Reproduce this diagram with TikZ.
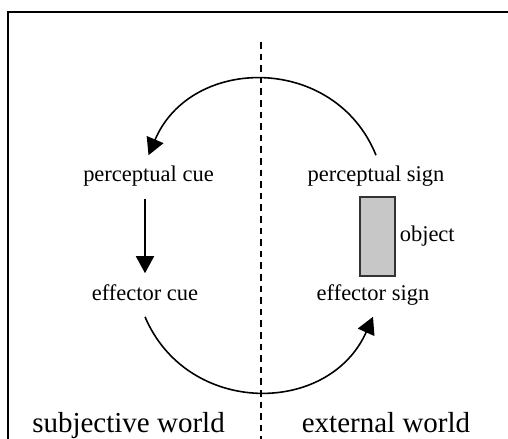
\documentclass[tikz,border=0pt]{standalone}
\usepackage{fontspec}
\setmainfont{Liberation Serif}
\usetikzlibrary{arrows.meta}

\begin{document}
\begin{tikzpicture}[line width=0.9pt,
    cue/.style={font=\fontsize{12.8}{15}\selectfont, text height=0.3cm,
        text depth=0.1cm, inner xsep=0.1cm, inner ysep=0.22cm},
    world/.style={font=\fontsize{16.5}{19}\selectfont, anchor=base},
    arr/.style={-{Triangle[length=0.34cm,width=0.36cm]}},
    divider/.style={dash pattern=on 3.8pt off 2.8pt, line width=1.1pt}]
        \useasboundingbox (0,0) rectangle (10.16,-8.78);
        % frame, cut at the right and bottom
        \draw[line width=1.2pt] (0.16,-8.78) -- (0.16,-0.24) -- (10.16,-0.24);
        \draw[divider] (5.22,-0.84) -- (5.22,-8.78);

        \node[cue] (pcue) at (2.97,-3.54) {perceptual cue};
        \node[cue] (psign) at (7.52,-3.54) {perceptual sign};
        \node[cue] (ecue) at (2.9,-5.9) {effector cue};
        \node[cue] (esign) at (7.46,-5.9) {effector sign};

        \node[draw=black!80, fill=black!22, line width=1.1pt,
        minimum width=0.7cm, minimum height=1.58cm]
        (obj) at (7.55,-4.73) {};
        \node[cue, anchor=west, inner xsep=0.06cm] (objlbl) at (obj.east) {object};

        \draw[arr] (psign.north) to[out=112, in=67, looseness=1.23] (pcue.north);
        \draw[arr] (ecue.north |- pcue.south) -- (ecue.north);
        \draw[arr] (ecue.south) to[out=-67, in=-114, looseness=1.22] (esign.south);

        \node[world] (subj) at (2.57,-8.64) {subjective world};
        \node[world] (ext) at (7.72,-8.64) {external world};
    \end{tikzpicture}
\end{document}
